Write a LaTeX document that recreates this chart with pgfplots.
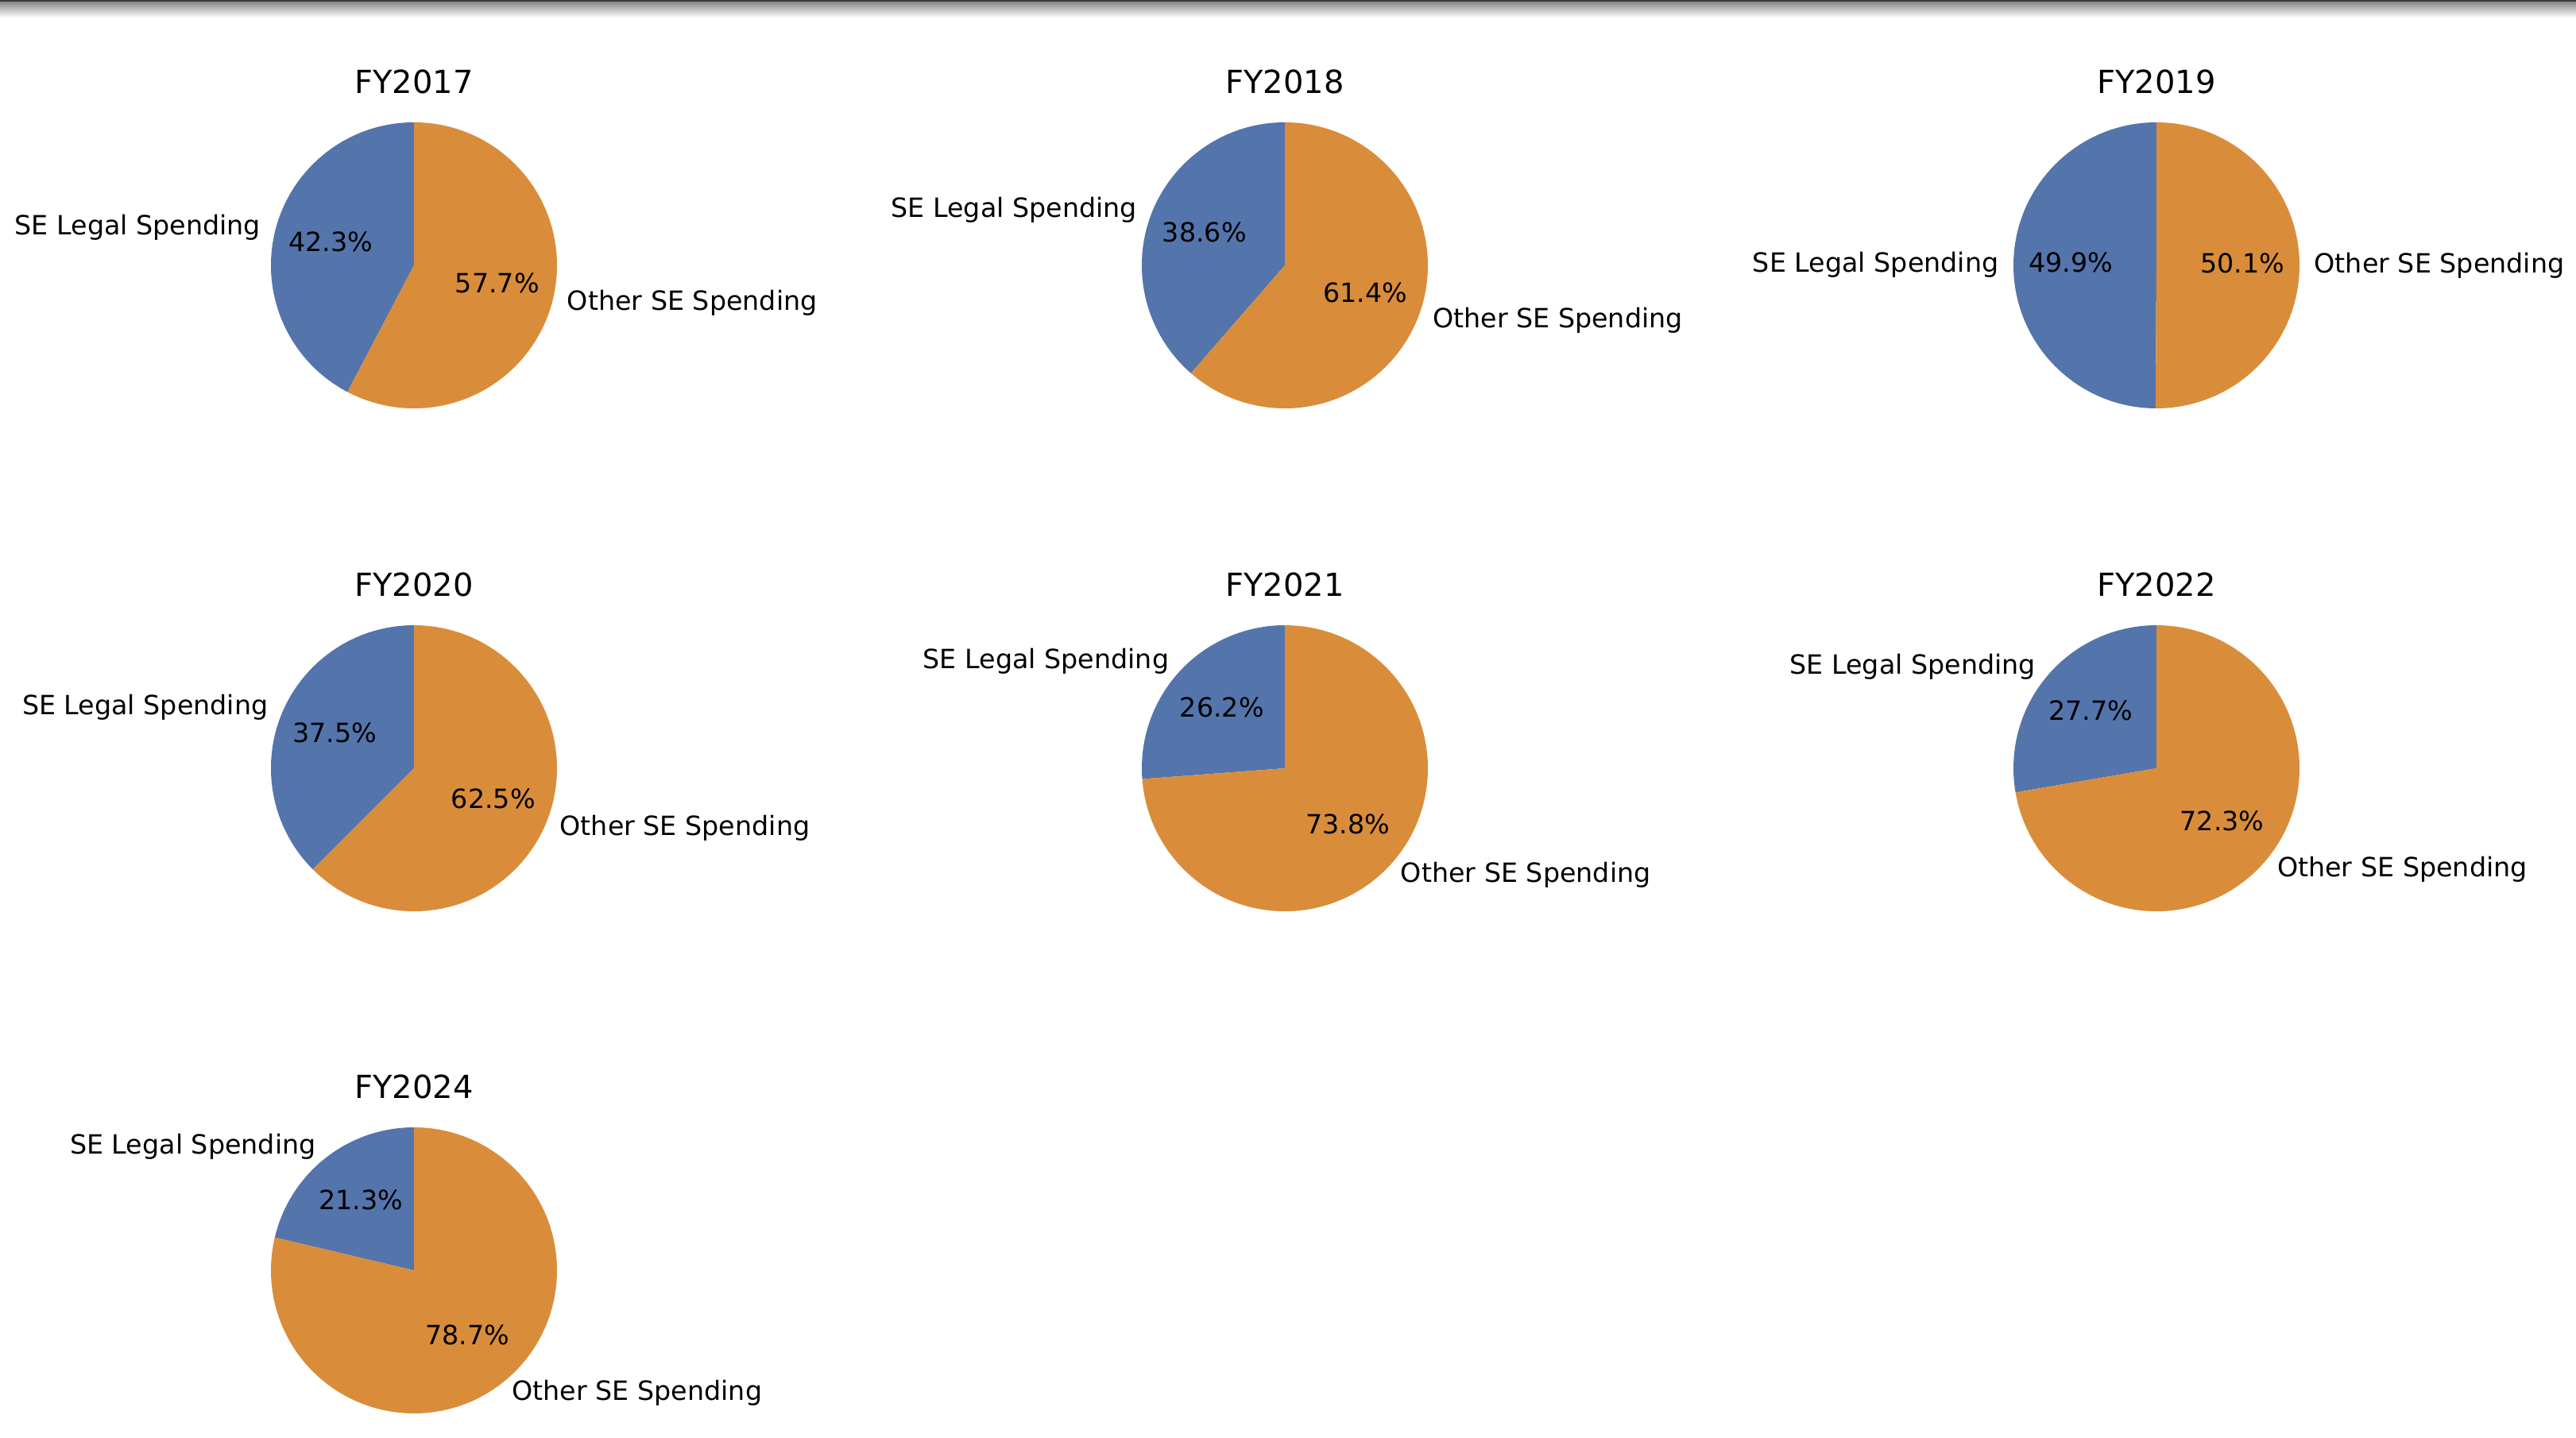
\documentclass[border=0pt]{standalone}
\usepackage{pgfplots}
\pgfplotsset{compat=1.18}
\usepackage{fontspec}
\setmainfont{DejaVu Sans}
\definecolor{sebl}{HTML}{5474AC}
\definecolor{seor}{HTML}{D98D3A}
\newcommand{\labfont}{\fontsize{10bp}{12bp}\selectfont}
\newcommand{\ttlfont}{\fontsize{12bp}{14.4bp}\selectfont}
% #1 position, #2 title, #3 SE Legal %, #4 Other %
\newcommand{\pie}[4]{%
 \pgfmathsetmacro{\pieA}{90+3.6*#3}%
 \pgfmathsetmacro{\pieB}{\pieA-360}%
 \pgfmathsetmacro{\pieM}{90+1.8*#3}%
 \pgfmathsetmacro{\pieN}{270+1.8*#3}%
 \begin{axis}[at={#1}, anchor=center, width=108bp, height=108bp, scale only axis,
   hide axis, xmin=-1, xmax=1, ymin=-1, ymax=1, clip=false,
   title={#2}, title style={font=\ttlfont, anchor=base, at={(0.5,1)}, yshift=5.1bp, inner sep=0pt}]
 \addplot[draw=none, forget plot] coordinates {(0,0)};
 \fill[sebl] (axis cs:0,0) -- (axis cs:0,1) arc[start angle=90, end angle=\pieA, radius=54bp] -- cycle;
 \fill[seor] (axis cs:0,0) -- (axis cs:0,1) arc[start angle=90, end angle=\pieB, radius=54bp] -- cycle;
 \path (axis cs:0,0) ++(\pieM:59.4bp) node[anchor=east, font=\labfont, inner sep=0pt, text height=7.6bp, text depth=2.4bp]{SE Legal Spending};
 \path (axis cs:0,0) ++(\pieN:59.4bp) node[anchor=west, font=\labfont, inner sep=0pt, text height=7.6bp, text depth=2.4bp]{Other SE Spending};
 \path (axis cs:0,0) ++(\pieM:32.4bp) node[anchor=center, font=\labfont, inner sep=0pt, text height=7.6bp, text depth=2.4bp]{#3\%};
 \path (axis cs:0,0) ++(\pieN:32.4bp) node[anchor=center, font=\labfont, inner sep=0pt, text height=7.6bp, text depth=2.4bp]{#4\%};
 \end{axis}}
\begin{document}
\begin{tikzpicture}
\fill[white] (0,0) rectangle (972.6bp,-543bp);
\path[use as bounding box] (0,0) rectangle (972.6bp,-543bp);
\fill[black!78] (0,0) rectangle (972.6bp,-0.8bp);
\shade[top color=black!45, bottom color=white] (0,-0.8bp) rectangle (972.6bp,-6.6bp);
\pie{(156.3bp,-100.2bp)}{FY2017}{42.3}{57.7}
\pie{(485.1bp,-100.2bp)}{FY2018}{38.6}{61.4}
\pie{(814.2bp,-100.2bp)}{FY2019}{49.9}{50.1}
\pie{(156.3bp,-290.1bp)}{FY2020}{37.5}{62.5}
\pie{(485.1bp,-290.1bp)}{FY2021}{26.2}{73.8}
\pie{(814.2bp,-290.1bp)}{FY2022}{27.7}{72.3}
\pie{(156.3bp,-479.7bp)}{FY2024}{21.3}{78.7}
\end{tikzpicture}
\end{document}
